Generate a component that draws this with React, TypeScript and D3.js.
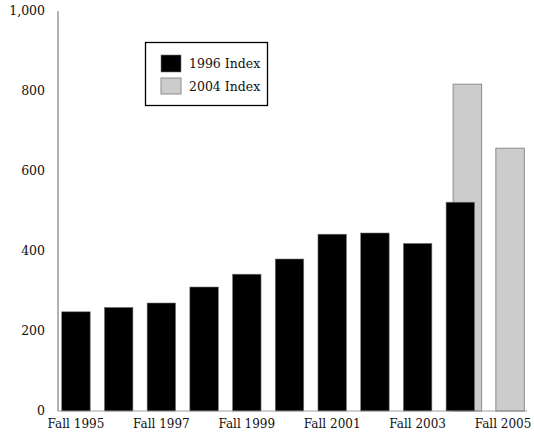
import React from "react";
import * as d3 from "d3";

const categories = [
  "Fall 1995", "Fall 1996", "Fall 1997", "Fall 1998", "Fall 1999", "Fall 2000",
  "Fall 2001", "Fall 2002", "Fall 2003", "Fall 2004", "Fall 2005",
];
const index1996: (number | null)[] = [248, 259, 270, 310, 342, 380, 442, 445, 419, 522, null];
const index2004: (number | null)[] = [null, null, null, null, null, null, null, null, null, 817, 657];
const yTicks = [0, 200, 400, 600, 800, 1000];
const tickLabels = ["0", "200", "400", "600", "800", "1,000"];
const xLabelEvery = 2;

const W = 534;
const H = 437;
const FONT = "'DejaVu Serif', serif";

export default function App() {
  const y = d3.scaleLinear().domain([0, 1000]).range([411, 11]);
  const x = d3
    .scaleBand<string>()
    .domain(categories)
    .range([58, 521])
    .paddingInner(0.333)
    .paddingOuter(0.087);
  const bw = x.bandwidth();
  const grayShift = x.step() * 0.165;

  return (
    <svg
      width={W}
      height={H}
      style={{ position: "absolute", left: 0, top: 0, background: "#fff" }}
      fontFamily={FONT}
    >
      {categories.map((c, i) =>
        index2004[i] == null ? null : (
          <rect
            key={"g" + c}
            x={(x(c) as number) + grayShift}
            y={y(index2004[i] as number)}
            width={bw}
            height={y(0) - y(index2004[i] as number)}
            fill="#cccccc"
            stroke="#8c8c8c"
            strokeWidth={1}
          />
        )
      )}
      {categories.map((c, i) =>
        index1996[i] == null ? null : (
          <rect
            key={"b" + c}
            x={x(c) as number}
            y={y(index1996[i] as number)}
            width={bw}
            height={y(0) - y(index1996[i] as number)}
            fill="#000"
            stroke="#777"
            strokeWidth={0.6}
          />
        )
      )}
      <line x1={58} x2={58} y1={y(1000)} y2={y(0)} stroke="#666" strokeWidth={1} />
      <line x1={58} x2={527} y1={y(0)} y2={y(0)} stroke="#888" strokeWidth={0.8} />
      {yTicks.map((t, i) => (
        <text
          key={"yt" + t}
          x={45}
          y={y(t)}
          dy="0.35em"
          textAnchor="end"
          fontSize={12.5}
          fill="#111"
        >
          {tickLabels[i]}
        </text>
      ))}
      {categories.map((c, i) =>
        i % xLabelEvery === 0 ? (
          <text
            key={"xt" + c}
            x={(x(c) as number) + bw / 2}
            y={428}
            textAnchor="middle"
            fontSize={12}
            fill="#111"
          >
            {c}
          </text>
        ) : null
      )}
      <rect x={145.5} y={42.5} width={122} height={63} fill="#fff" stroke="#000" strokeWidth={1.3} />
      <rect x={161} y={55} width={20} height={17} fill="#000" stroke="#777" strokeWidth={0.6} />
      <rect x={161} y={78} width={20} height={16} fill="#cccccc" stroke="#8c8c8c" strokeWidth={1} />
      <text x={189} y={68} fontSize={12.5} fill="#111">1996 Index</text>
      <text x={189} y={91} fontSize={12.5} fill="#111">2004 Index</text>
    </svg>
  );
}
